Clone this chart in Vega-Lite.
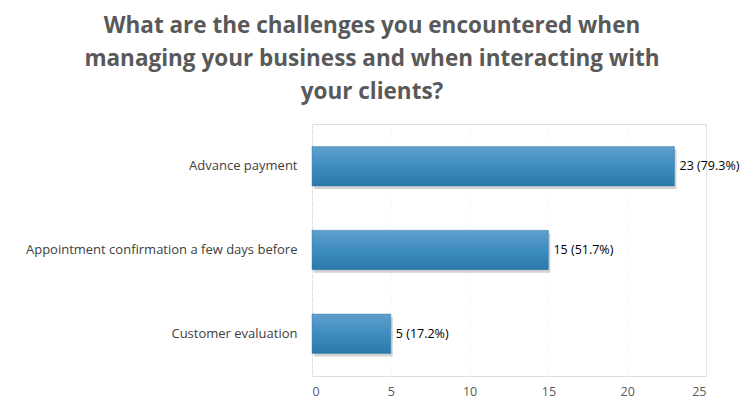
{
  "$schema": "https://vega.github.io/schema/vega-lite/v6.json",
  "width": 394,
  "height": 252,
  "autosize": {"type": "none"},
  "padding": {"left": 312, "top": 124, "right": 41, "bottom": 33},
  "background": "white",
  "title": {
    "text": ["What are the challenges you encountered when", "managing your business and when interacting with", "your clients?"],
    "font": "Open Sans",
    "fontSize": 22.5,
    "fontWeight": "bold",
    "color": "#595959",
    "lineHeight": 33,
    "anchor": "middle",
    "frame": "group",
    "dx": -137,
    "offset": 21
  },
  "data": {
    "values": [
      {"challenge": "Advance payment", "count": 23, "label": "23 (79.3%)"},
      {"challenge": "Appointment confirmation a few days before", "count": 15, "label": "15 (51.7%)"},
      {"challenge": "Customer evaluation", "count": 5, "label": "5 (17.2%)"}
    ]
  },
  "encoding": {
    "y": {
      "field": "challenge",
      "type": "nominal",
      "sort": null,
      "scale": {"paddingInner": 0.53, "paddingOuter": 0.27},
      "axis": {"title": null, "domain": false, "ticks": false, "labelPadding": 15, "labelFont": "Open Sans", "labelFontSize": 13, "labelColor": "#404040", "labelLimit": 320}
    },
    "x": {
      "field": "count",
      "type": "quantitative",
      "scale": {"domain": [0, 25], "nice": false},
      "axis": {"title": null, "domain": false, "ticks": false, "values": [0, 5, 10, 15, 20, 25], "labelPadding": 9, "labelFont": "Open Sans", "labelFontSize": 12.5, "labelColor": "#595959", "grid": true, "gridColor": "#f2f2f2", "gridDash": [2, 4]}
    }
  },
  "layer": [
    {
      "mark": {"type": "bar", "color": "#c8c8c8", "xOffset": 2, "yOffset": 3, "opacity": 0.8}
    },
    {
      "mark": {
        "type": "bar",
        "stroke": "#3a7fb0",
        "strokeWidth": 0.5,
        "color": {"gradient": "linear", "x1": 0, "y1": 0, "x2": 0, "y2": 1, "stops": [{"offset": 0, "color": "#5f9fcb"}, {"offset": 0.5, "color": "#3d8dc1"}, {"offset": 1, "color": "#2c78a8"}]}
      }
    },
    {
      "mark": {"type": "text", "align": "left", "dx": 5, "font": "Open Sans", "fontSize": 12.5, "color": "#000000"},
      "encoding": {"text": {"field": "label"}}
    }
  ]
}
